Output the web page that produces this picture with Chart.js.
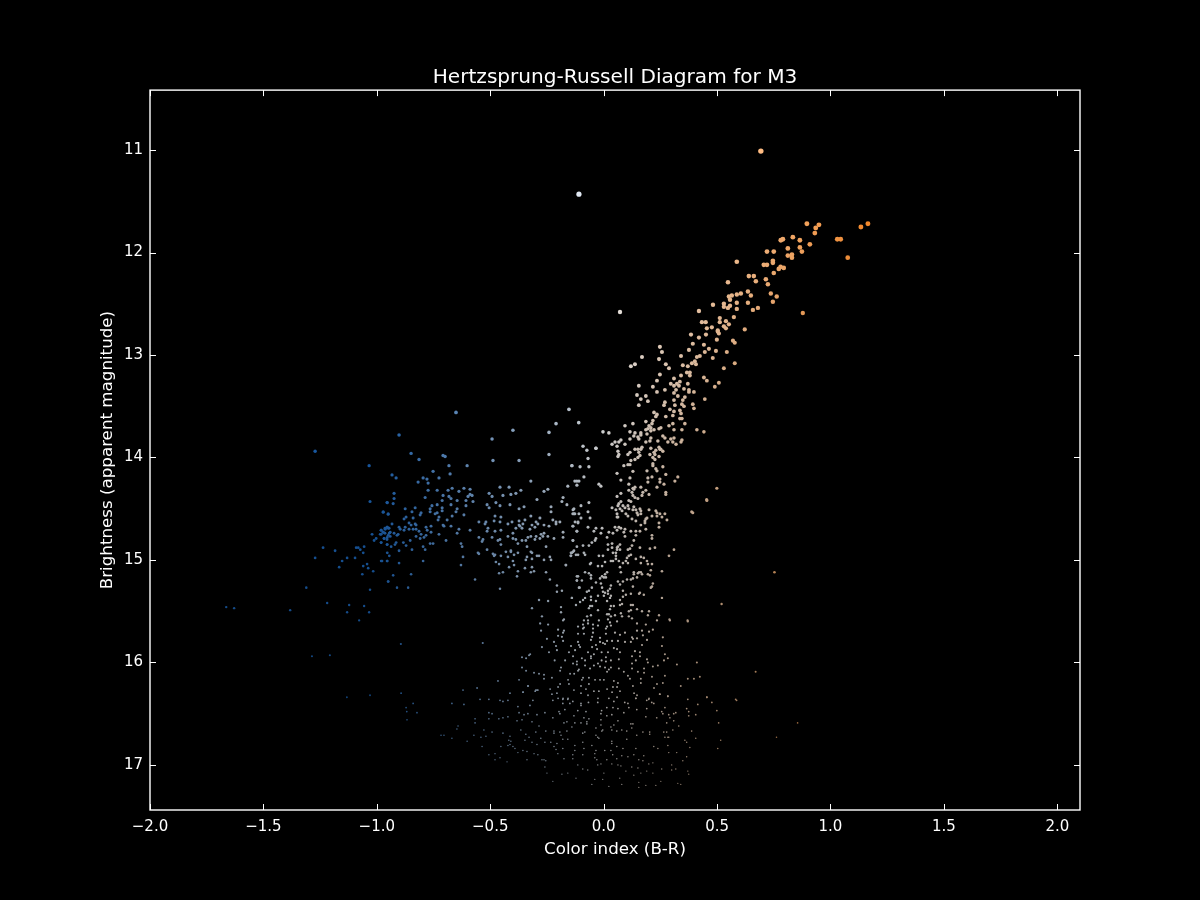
<!DOCTYPE html>
<html>
<head>
<meta charset="utf-8">
<title>Hertzsprung-Russell Diagram for M3</title>
<script src="https://cdn.jsdelivr.net/npm/chart.js@4"></script>
<style>
  html, body { margin: 0; padding: 0; background: #000; }
  canvas { display: block; }
</style>
</head>
<body>
<canvas id="main-chart" width="1200" height="900"></canvas>
<script>
// every star is [color index B-R, apparent magnitude]
const giantTop = [[0.693,11.01],[-0.109,11.43],[0.072,12.58],[0.896,11.72],[0.949,11.73],[0.935,11.76],[0.931,11.81],[1.134,11.75],[1.165,11.72],[1.03,11.87],[1.045,11.87],[1.076,12.05],[0.781,11.88],[0.79,11.87],[0.834,11.85],[0.865,11.88],[0.909,11.92],[0.812,11.96],[0.865,11.95],[0.874,11.99],[0.72,11.99],[0.75,11.99],[0.812,12.03],[0.83,12.02],[0.83,12.05],[0.587,12.09],[0.746,12.08],[0.746,12.1],[0.706,12.12],[0.72,12.12],[0.772,12.16],[0.78,12.14],[0.794,12.15],[0.75,12.2],[0.64,12.23],[0.662,12.23],[0.671,12.28],[0.548,12.29],[0.715,12.26],[0.724,12.31],[0.636,12.38],[0.649,12.42],[0.605,12.4],[0.587,12.41],[0.565,12.42],[0.552,12.43],[0.557,12.46],[0.737,12.4],[0.763,12.43],[0.746,12.48],[0.482,12.51],[0.53,12.5],[0.53,12.53],[0.548,12.54],[0.557,12.52],[0.587,12.49],[0.636,12.49],[0.587,12.55],[0.658,12.56],[0.68,12.54],[0.878,12.59],[0.42,12.57],[0.574,12.63],[0.512,12.64],[0.512,12.68],[0.539,12.67],[0.552,12.7],[0.433,12.68],[0.45,12.68],[0.455,12.74],[0.477,12.73],[0.53,12.72],[0.539,12.74],[0.622,12.75],[0.503,12.76]];
const giantMiddle = [[0.503,12.77],[0.508,12.79],[0.385,12.8],[0.451,12.8],[0.42,12.83],[0.499,12.85],[0.57,12.86],[0.578,12.88],[0.393,12.89],[0.442,12.9],[0.248,12.92],[0.464,12.94],[0.376,12.95],[0.495,12.96],[0.543,12.97],[0.257,12.97],[0.446,12.97],[0.341,13.01],[0.424,13.01],[0.411,13.02],[0.169,13.02],[0.481,13.03],[0.244,13.04],[0.402,13.06],[0.407,13.09],[0.389,13.08],[0.138,13.09],[0.12,13.11],[0.274,13.09],[0.349,13.1],[0.371,13.11],[0.578,13.08],[0.288,13.13],[0.53,13.13],[0.367,13.17],[0.38,13.17],[0.38,13.2],[0.248,13.19],[0.341,13.2],[0.442,13.22],[0.455,13.25],[0.31,13.23],[0.235,13.25],[0.336,13.26],[0.323,13.28],[0.296,13.28],[0.332,13.3],[0.31,13.3],[0.371,13.28],[0.508,13.27],[0.155,13.3],[0.217,13.31],[0.49,13.31],[0.354,13.33],[0.376,13.34],[0.376,13.36],[0.398,13.36],[0.319,13.34],[0.31,13.37],[0.27,13.34],[0.235,13.36],[0.147,13.39],[0.186,13.4],[0.327,13.4],[0.358,13.41],[0.164,13.43],[0.195,13.45],[0.31,13.44],[0.446,13.43],[0.27,13.46],[0.266,13.49],[0.349,13.44],[0.345,13.48],[0.354,13.5],[0.393,13.48],[0.398,13.52],[0.155,13.49],[0.314,13.49],[0.292,13.53],[0.31,13.55],[0.336,13.54],[0.341,13.57],[0.222,13.56],[0.235,13.58],[0.23,13.6],[0.305,13.59],[0.274,13.6],[0.336,13.62],[0.345,13.62],[0.129,13.67],[0.094,13.69],[0.186,13.65],[0.217,13.64],[0.213,13.67],[0.2,13.69],[0.208,13.71],[0.195,13.72],[0.222,13.73],[0.208,13.74],[0.186,13.73],[0.191,13.77],[0.305,13.67],[0.288,13.69],[0.358,13.67],[0.244,13.72],[0.252,13.71],[0.31,13.73],[0.345,13.73],[0.411,13.73],[0.442,13.75],[0.116,13.75],[0.138,13.76],[0.133,13.79],[0.164,13.76],[0.164,13.78],[0.151,13.8],[0.155,13.82],[0.116,13.82],[-0.003,13.75],[0.023,13.76],[0.208,13.81],[0.204,13.84],[0.186,13.85],[0.261,13.79],[0.27,13.81],[0.239,13.84],[0.31,13.81],[0.296,13.82],[0.283,13.85],[0.305,13.85],[0.319,13.87],[0.345,13.83],[0.341,13.85],[0.076,13.83],[0.067,13.85],[0.05,13.85],[0.037,13.87],[0.059,13.89],[0.094,13.87],[-0.034,13.91],[0.138,13.92],[0.169,13.9],[0.164,13.92],[0.208,13.91],[0.244,13.9],[0.252,13.92]];
const blueEnd = [[-1.272,13.94],[-1.034,14.08],[-1.03,14.43],[-0.954,14.44],[-0.972,14.53],[-0.95,14.55],[-0.954,14.68],[-0.963,14.7],[-0.981,14.71],[-0.972,14.73],[-0.985,14.75],[-1.021,14.75],[-1.003,14.79],[-1.012,14.81],[-0.95,14.69],[-0.945,14.74],[-0.95,14.76],[-0.954,14.78],[-0.968,14.79],[-0.981,14.83],[-0.954,14.85],[-1.237,14.88],[-1.184,14.91],[-1.091,14.88],[-1.082,14.88],[-1.073,14.9],[-1.056,14.87],[-1.06,14.93],[-0.954,14.93],[-0.945,14.96],[-1.272,14.98],[-1.131,14.98],[-1.096,14.98],[-1.153,15.01],[-0.977,15.01],[-0.954,15.01],[-1.043,15.04],[-1.06,15.06],[-1.038,15.08],[-1.016,15.11],[-1.166,15.07],[-1.064,15.14],[-0.95,15.21],[-1.311,15.27],[-1.03,15.29],[-1.219,15.42],[-1.122,15.44],[-1.056,15.45],[-1.131,15.51],[-1.034,15.51],[-1.078,15.59],[-1.664,15.46],[-1.629,15.47],[-1.382,15.49]];
const horizontalBranch = [[-0.651,13.56],[-0.153,13.53],[-0.21,13.67],[-0.11,13.66],[-0.4,13.735],[-0.241,13.755],[-0.492,13.82],[-0.902,13.78],[-0.849,13.96],[-0.241,13.97],[-0.708,13.98],[-0.699,13.99],[-0.814,14.02],[-0.488,14.03],[-0.373,14.03],[-0.682,14.08],[-0.602,14.08],[-0.14,14.08],[-0.752,14.135],[-0.677,14.16],[-0.933,14.17],[-0.915,14.2],[-0.796,14.2],[-0.779,14.21],[-0.774,14.25],[-0.818,14.24],[-0.726,14.2],[-0.321,14.23],[-0.127,14.23],[-0.118,14.23],[-0.109,14.23],[-0.118,14.27],[-0.158,14.28],[-0.774,14.32],[-0.734,14.32],[-0.686,14.32],[-0.668,14.3],[-0.638,14.33],[-0.616,14.3],[-0.589,14.31],[-0.457,14.29],[-0.417,14.29],[-0.365,14.32],[-0.246,14.31],[-0.263,14.33],[-0.924,14.35],[-0.924,14.4],[-0.787,14.39],[-0.708,14.37],[-0.682,14.38],[-0.673,14.4],[-0.646,14.42],[-0.712,14.42],[-0.598,14.38],[-0.58,14.37],[-0.589,14.36],[-0.607,14.42],[-0.576,14.43],[-0.505,14.35],[-0.492,14.38],[-0.444,14.37],[-0.409,14.36],[-0.387,14.35],[-0.294,14.41],[-0.179,14.39],[-0.184,14.43],[-0.162,14.46],[-0.131,14.5],[-0.127,14.55],[-0.136,14.55],[-0.955,14.44],[-0.928,14.45],[-0.757,14.47],[-0.734,14.46],[-0.712,14.49],[-0.765,14.5],[-0.765,14.53],[-0.743,14.55],[-0.734,14.54],[-0.712,14.52],[-0.673,14.46],[-0.646,14.5],[-0.651,14.53],[-0.607,14.47],[-0.514,14.46],[-0.505,14.49],[-0.475,14.44],[-0.457,14.47],[-0.413,14.46],[-0.373,14.5],[-0.351,14.48],[-0.232,14.48],[-0.232,14.53],[-0.875,14.5],[-0.831,14.49],[-0.845,14.53],[-0.805,14.54],[-0.809,14.56],[-0.972,14.535],[-0.95,14.555],[-0.616,14.56],[-0.726,14.58],[-0.73,14.61],[-0.668,14.57],[-0.69,14.61],[-0.479,14.57],[-0.453,14.58],[-0.483,14.62],[-0.457,14.63],[-0.523,14.65],[-0.55,14.63],[-0.519,14.63],[-0.321,14.57],[-0.281,14.59],[-0.347,14.61],[-0.373,14.62],[-0.356,14.65],[-0.373,14.66],[-0.387,14.69],[-0.36,14.69],[-0.369,14.67],[-0.404,14.63],[-0.422,14.65],[-0.298,14.63],[-0.316,14.66],[-0.29,14.65],[-0.303,14.68],[-0.325,14.7],[-0.263,14.66],[-0.241,14.67],[-0.224,14.61],[-0.21,14.63],[-0.21,14.65],[-0.193,14.63],[-0.136,14.67],[-0.113,14.63],[-0.88,14.6],[-0.871,14.58],[-0.84,14.59],[-0.933,14.65],[-0.955,14.68],[-0.946,14.69],[-0.964,14.69],[-0.981,14.71],[-0.972,14.73],[-0.964,14.74],[-0.981,14.75],[-0.902,14.68],[-0.875,14.68],[-0.897,14.7],[-0.88,14.71],[-0.858,14.64],[-0.849,14.66],[-0.827,14.66],[-0.831,14.65],[-0.858,14.7],[-0.84,14.7],[-0.827,14.7],[-0.814,14.72],[-0.805,14.75],[-0.783,14.68],[-0.761,14.67],[-0.778,14.71],[-0.761,14.73],[-0.708,14.66],[-0.704,14.67],[-0.673,14.67],[-0.638,14.7],[-0.589,14.71],[-0.646,14.74],[-0.726,14.75],[-0.941,14.73],[-0.924,14.74],[-0.906,14.75],[-0.911,14.76],[-0.941,14.77],[-0.955,14.8],[-0.968,14.79],[-0.981,14.83],[-0.955,14.85],[-0.937,14.87],[-0.92,14.85],[-0.915,14.83],[-0.883,14.83],[-0.871,14.86],[-0.853,14.81],[-0.827,14.77],[-0.809,14.79],[-0.792,14.78],[-0.783,14.76],[-0.796,14.87],[-0.787,14.9],[-0.845,14.9],[-0.902,14.91],[-0.765,14.84],[-0.752,14.84],[-0.695,14.81],[-0.629,14.84],[-0.624,14.87],[-0.51,14.69],[-0.479,14.72],[-0.453,14.71],[-0.514,14.72],[-0.422,14.77],[-0.4,14.74],[-0.457,14.8],[-0.492,14.78],[-0.532,14.8],[-0.55,14.78],[-0.536,14.82],[-0.466,14.81],[-0.453,14.85],[-0.4,14.79],[-0.387,14.8],[-0.36,14.81],[-0.334,14.78],[-0.343,14.81],[-0.378,14.84],[-0.338,14.87],[-0.321,14.77],[-0.298,14.77],[-0.303,14.8],[-0.276,14.75],[-0.281,14.79],[-0.263,14.74],[-0.268,14.77],[-0.246,14.77],[-0.219,14.79],[-0.179,14.73],[-0.179,14.78],[-0.118,14.72],[-0.136,14.81],[-0.118,14.87],[-0.131,14.91],[-0.14,14.93],[-0.145,14.96],[-0.167,15.05],[-0.514,14.9],[-0.554,14.93],[-0.55,14.94],[-0.488,14.94],[-0.479,14.95],[-0.483,14.96],[-0.431,14.92],[-0.409,14.91],[-0.409,14.92],[-0.378,14.93],[-0.395,14.95],[-0.321,14.92],[-0.316,14.93],[-0.254,14.87],[-0.294,14.96],[-0.422,14.97],[-0.453,14.96],[-0.338,14.97],[-0.343,15],[-0.316,14.99],[-0.285,14.96],[-0.263,15],[-0.237,14.97],[-0.232,15],[-0.62,14.97],[-0.629,15.05],[-0.796,15.01],[-0.902,15.03],[-0.955,15.01],[-0.981,15.01],[-0.475,15.02],[-0.461,15.04],[-0.417,15.07],[-0.4,15.01],[-0.395,15.05],[-0.347,15.08],[-0.316,15.07],[-0.307,15.11],[-0.321,15.12],[-0.254,15.12],[-0.378,15.11],[-0.444,15.12],[-0.461,15.13],[-0.382,15.16],[-0.237,15.19],[-0.849,15.14],[-0.928,15.15],[-0.95,15.21],[-0.911,15.27],[-0.862,15.27],[-0.567,15.19],[-0.457,15.28],[-0.206,15.25],[-0.184,15.3],[-0.206,15.31],[-0.14,15.37],[-0.113,15.16],[-0.118,15.2],[-0.106,15.27]];
const subgiantBranch = [[-0.091,13.89],[-0.034,13.91],[-0.074,13.93],[-0.069,14.01],[-0.104,14.09],[-0.14,14.08],[-0.065,14.09],[0.063,13.94],[0.067,13.97],[0.063,13.99],[0.116,13.95],[0.107,13.97],[0.151,13.92],[0.155,13.95],[0.16,13.98],[0.151,14],[0.138,14.02],[0.12,14.03],[0.204,13.97],[0.222,13.95],[0.23,13.93],[0.226,13.97],[0.248,13.92],[0.261,13.94],[0.244,13.99],[0.217,14],[0.226,14.02],[0.107,14.07],[0.116,14.07],[0.089,14.08],[0.217,14.06],[0.217,14.08],[0.23,14.11],[0.235,14.13],[0.261,14.09],[0.191,14.13],[0.059,14.155],[0.129,14.135],[0.274,14.165],[0.076,14.22],[0.116,14.2],[0.111,14.26],[0.195,14.2],[0.213,14.19],[0.195,14.24],[0.248,14.21],[0.248,14.24],[0.266,14.26],[0.327,14.19],[0.314,14.23],[-0.087,14.19],[-0.021,14.26],[-0.012,14.28],[0.138,14.29],[0.129,14.3],[0.111,14.32],[0.125,14.34],[0.133,14.31],[0.164,14.29],[0.186,14.32],[0.173,14.34],[0.235,14.29],[0.274,14.34],[0.274,14.36],[0.2,14.36],[0.169,14.37],[0.499,14.3],[0.455,14.42],[0.393,14.54],[0.076,14.35],[0.059,14.38],[0.129,14.37],[0.138,14.39],[0.151,14.4],[0.12,14.43],[0.111,14.42],[0.076,14.43],[0.067,14.45],[0.063,14.47],[0.037,14.49],[0.085,14.47],[0.107,14.47],[0.094,14.49],[0.054,14.51],[0.111,14.5],[0.133,14.48],[0.142,14.51],[0.16,14.5],[0.164,14.52],[0.072,14.5],[0.081,14.52],[0.059,14.55],[0.098,14.55],[0.107,14.57],[0.129,14.51],[0.147,14.54],[0.164,14.55],[0.151,14.56],[0.125,14.6],[0.142,14.62],[0.059,14.58],[0.063,14.58],[0.2,14.51],[0.23,14.52],[0.235,14.54],[0.248,14.55],[0.27,14.55],[0.213,14.57],[0.235,14.57],[0.257,14.58],[0.279,14.61],[0.186,14.6],[0.182,14.64],[0.182,14.62],[0.191,14.59],[0.164,14.66],[0.244,14.64],[0.244,14.68],[0.186,14.7],[0.05,14.68],[0.067,14.68],[0.076,14.69],[0.059,14.71],[0.041,14.74],[0.023,14.73],[0.015,14.78],[-0.007,14.69],[-0.034,14.69],[-0.043,14.72],[-0.012,14.74],[0.094,14.7],[0.089,14.73],[0.094,14.77],[0.12,14.72],[0.142,14.72],[0.16,14.72],[0.142,14.76],[0.133,14.81],[0.213,14.76],[0.213,14.79],[-0.069,14.68],[-0.126,14.63],[-0.113,14.64],[-0.1,14.59],[-0.135,14.67],[-0.06,14.59],[-0.109,14.55],[-0.069,14.53],[-0.065,14.44],[-0.1,14.47],[-0.135,14.51],[-0.131,14.55],[-0.135,14.81],[-0.118,14.72],[-0.091,14.86],[-0.065,14.86],[-0.052,14.83],[-0.038,14.81],[-0.034,14.79],[0.019,14.85],[0.037,14.84],[0.037,14.88],[0.019,14.9],[0.059,14.88],[0.072,14.85],[0.063,14.87],[0.059,14.9],[0.072,14.9],[0.054,14.93],[0.041,14.93],[0.107,14.9],[0.125,14.86],[0.116,14.89],[0.16,14.88],[0.204,14.89],[0.226,14.88],[0.31,14.9],[0.288,14.96],[-0.135,14.92],[-0.144,14.93],[-0.144,14.96],[-0.122,14.95],[-0.113,14.95],[-0.087,14.93],[-0.082,14.95],[-0.021,14.96],[-0.003,14.96],[0.12,14.95],[0.111,14.96],[0.103,14.98],[0.054,14.96],[0.098,15.01],[0.107,15.03],[0.085,15.03],[0.054,14.99],[0.067,15.01],[0.032,15.01],[0.041,15.01],[0.006,15.02],[0.164,14.97],[0.177,14.98],[0.142,14.99],[0.191,15.01],[0.195,15.04],[0.164,15.03],[0.213,15.04],[0.072,15.07],[-0.056,15.03],[-0.06,15.04],[-0.007,15.06],[-0.025,15.06],[-0.166,15.05],[0.257,15.11],[0.208,15.1],[0.204,15.15],[0.195,15.14],[0.164,15.12],[0.151,15.13],[0.133,15.12],[0.133,15.14],[0.129,15.18],[0.147,15.17],[0.076,15.12],[0.015,15.12],[0.006,15.14],[-0.007,15.16],[0.001,15.17],[-0.016,15.18],[0.01,15.17],[-0.056,15.15],[-0.082,15.12],[-0.065,15.13],[-0.118,15.16],[-0.096,15.2],[-0.118,15.2],[-0.109,15.27],[-0.056,15.18],[-0.034,15.22],[-0.052,15.27],[-0.065,15.3],[-0.074,15.31],[-0.012,15.23],[0.032,15.25],[0.028,15.28],[0.019,15.3],[-0.007,15.27],[0.006,15.32],[0.019,15.33],[0.032,15.35],[-0.003,15.31],[-0.025,15.35],[0.001,15.35],[0.028,15.37],[-0.056,15.36],[-0.082,15.37],[-0.14,15.37],[0.063,15.21],[0.085,15.21],[0.103,15.19],[0.072,15.24],[0.085,15.3],[0.12,15.19],[0.156,15.12],[0.169,15.14],[0.217,15.23],[0.208,15.27],[0.213,15.26],[0.129,15.26],[0.16,15.32],[0.177,15.34],[0.12,15.33],[0.098,15.34],[0.085,15.36],[0.156,15.33],[0.257,15.37]];
const mainSequenceUpper = [[-0.285,15.39],[-0.245,15.4],[-0.091,15.39],[-0.104,15.41],[-0.122,15.44],[-0.056,15.39],[-0.034,15.4],[0.015,15.4],[0.072,15.39],[0.072,15.44],[0.032,15.45],[0.045,15.45],[0.081,15.43],[0.12,15.44],[0.129,15.44],[-0.06,15.45],[-0.051,15.45],[-0.065,15.47],[-0.188,15.46],[-0.188,15.51],[-0.316,15.47],[-0.272,15.55],[-0.28,15.62],[-0.245,15.63],[-0.276,15.69],[-0.179,15.59],[-0.175,15.58],[-0.025,15.49],[0.028,15.48],[0.023,15.53],[0.015,15.53],[0.032,15.55],[0.05,15.54],[0.076,15.52],[0.081,15.55],[0.111,15.5],[0.111,15.55],[0.12,15.49],[0.147,15.48],[0.169,15.5],[0.2,15.5],[0.195,15.54],[0.244,15.54],[-0.056,15.54],[-0.073,15.55],[-0.087,15.59],[-0.069,15.59],[-0.069,15.62],[-0.091,15.63],[-0.091,15.67],[-0.113,15.65],[-0.113,15.72],[-0.047,15.63],[-0.021,15.59],[-0.025,15.64],[0.019,15.58],[0.028,15.61],[0.059,15.6],[0.015,15.65],[0.032,15.64],[0.125,15.57],[0.147,15.62],[0.186,15.63],[0.235,15.59],[0.292,15.59],[0.371,15.6],[-0.201,15.68],[-0.175,15.69],[-0.179,15.71],[-0.201,15.74],[-0.184,15.75],[-0.179,15.79],[-0.219,15.8],[-0.25,15.77],[-0.272,15.85],[-0.241,15.9],[-0.21,15.84],[-0.206,15.88],[-0.087,15.66],[-0.047,15.67],[-0.047,15.71],[-0.087,15.72],[-0.051,15.75],[-0.016,15.76],[0.01,15.67],[0.01,15.72],[0.05,15.71],[0.072,15.73],[0.094,15.71],[0.147,15.69],[0.169,15.69],[0.173,15.735],[0.2,15.7],[0.217,15.68],[0.261,15.755],[0.125,15.755],[0.129,15.77],[0.147,15.765],[0.094,15.8],[0.12,15.8],[-0.056,15.78],[-0.016,15.8],[0.015,15.79],[-0.003,15.81],[0.006,15.82],[-0.034,15.83],[0.037,15.79],[0.063,15.79],[-0.113,15.8],[-0.109,15.83],[-0.104,15.85],[-0.144,15.84],[-0.153,15.9],[-0.135,15.94],[-0.126,15.88],[-0.051,15.85],[-0.029,15.87],[-0.069,15.9],[-0.056,15.94],[-0.043,15.92],[-0.009,15.9],[0.019,15.9],[0.01,15.95],[0.045,15.86],[0.059,15.87],[0.072,15.9],[0.169,15.83],[0.191,15.78],[0.257,15.84],[0.138,15.89],[0.16,15.9],[0.125,15.94],[0.16,15.94],[0.27,15.92],[0.283,15.96],[0.266,15.98],[-0.36,15.95],[-0.342,15.96],[-0.329,15.93],[-0.324,15.92],[-0.216,15.98],[-0.17,15.98],[-0.118,15.99],[-0.096,15.96],[-0.082,15.98],[-0.135,16.01],[-0.118,16.02],[-0.056,15.96],[-0.009,15.98],[0.01,15.99],[0.032,15.98],[0.067,15.97],[0.125,16.01],[0.142,15.98],[0.191,15.97],[0.195,16],[0.239,16.03],[0.217,16.04],[0.323,16.02],[0.411,16],[-0.025,16.01],[-0.043,16.03],[0.006,16.05],[0.015,16.09],[0.023,16.07],[0.032,16.05],[-0.016,16.04],[-0.06,16.06],[-0.082,16.03],[-0.109,16.07],[-0.113,16.08],[-0.188,16.05],[-0.192,16.08],[-0.148,16.11],[-0.13,16.11],[-0.228,16.15],[-0.263,16.16],[-0.285,16.11],[-0.307,16.1],[-0.342,16.08],[-0.36,16.05],[-0.263,16.12],[0.067,16.06],[0.089,16.09],[0.107,16.13],[0.125,16.06],[0.151,16.09],[0.178,16.06],[0.178,16.1],[0.213,16.14],[0.27,16.13],[0.371,16.16],[0.398,16.16],[0.424,16.14],[-0.091,16.15],[-0.065,16.15],[-0.038,16.17],[-0.016,16.17],[0.001,16.17],[0.045,16.18],[0.116,16.16],[0.164,16.16],[0.164,16.2],[-0.157,16.17],[-0.153,16.21],[-0.096,16.17],[-0.192,16.21],[-0.201,16.24],[-0.236,16.26],[-0.333,16.23],[-0.294,16.27],[-0.355,16.29],[-0.302,16.28],[-0.065,16.21],[-0.1,16.23],[-0.078,16.26],[-0.131,16.27],[-0.043,16.28],[-0.021,16.28],[0.015,16.26],[0.041,16.24],[0.063,16.2],[0.059,16.24],[0.037,16.29],[0.072,16.28],[0.129,16.23],[0.134,16.3],[0.147,16.32],[-0.228,16.31],[-0.206,16.3],[-0.157,16.35],[-0.179,16.35],[-0.201,16.35],[-0.069,16.32],[-0.1,16.3],[-0.025,16.35],[0.023,16.35],[0.059,16.34],[0.142,16.35],[0.2,16.35],[0.247,16.31],[0.283,16.33],[0.34,16.23],[0.235,16.21],[0.261,16.2],[0.222,16.25],[0.455,16.34]];
const mainSequenceLower = [[-0.893,16.3],[-0.871,16.44],[-0.84,16.4],[-0.823,16.49],[-0.867,16.56],[-0.62,16.27],[-0.558,16.25],[-0.466,16.18],[-0.373,16.17],[-0.334,16.23],[-0.413,16.3],[-0.356,16.29],[-0.299,16.27],[-0.29,16.27],[-0.669,16.4],[-0.616,16.41],[-0.545,16.36],[-0.506,16.36],[-0.457,16.37],[-0.444,16.38],[-0.422,16.37],[-0.378,16.43],[-0.325,16.42],[-0.312,16.37],[-0.373,16.49],[-0.506,16.49],[-0.492,16.5],[-0.351,16.51],[-0.334,16.5],[-0.294,16.51],[-0.259,16.49],[-0.567,16.55],[-0.567,16.59],[-0.506,16.55],[-0.462,16.55],[-0.444,16.54],[-0.422,16.53],[-0.382,16.57],[-0.36,16.56],[-0.316,16.58],[-0.642,16.62],[-0.647,16.65],[-0.717,16.71],[-0.704,16.71],[-0.669,16.74],[-0.602,16.77],[-0.572,16.71],[-0.528,16.66],[-0.541,16.73],[-0.519,16.72],[-0.492,16.68],[-0.444,16.69],[-0.536,16.82],[-0.413,16.72],[-0.418,16.76],[-0.409,16.77],[-0.422,16.81],[-0.413,16.8],[-0.4,16.82],[-0.391,16.84],[-0.453,16.82],[-0.506,16.9],[-0.479,16.89],[-0.479,16.95],[-0.457,16.93],[-0.426,16.97],[-0.378,16.88],[-0.356,16.86],[-0.338,16.87],[-0.338,16.95],[-0.365,16.66],[-0.343,16.7],[-0.329,16.73],[-0.347,16.76],[-0.285,16.62],[-0.299,16.68],[-0.255,16.67],[-0.277,16.74],[-0.316,16.78],[-0.294,16.8],[-0.259,16.78],[-0.307,16.89],[-0.29,16.9],[-0.263,16.95],[-0.272,16.95],[-0.255,16.96],[-0.259,17.02],[-0.25,17.08],[-0.224,17.16],[-0.224,16.37],[-0.18,16.36],[-0.158,16.36],[-0.136,16.38],[-0.18,16.4],[-0.149,16.4],[-0.1,16.4],[-0.067,16.39],[-0.026,16.39],[0.045,16.38],[0.093,16.39],[0.107,16.4],[0.142,16.35],[-0.1,16.42],[0.014,16.44],[0.041,16.44],[0.063,16.45],[0.111,16.44],[0.146,16.46],[-0.197,16.48],[-0.171,16.46],[-0.114,16.47],[-0.078,16.48],[-0.009,16.47],[-0.012,16.5],[0.014,16.52],[0.089,16.49],[0.036,16.51],[-0.224,16.54],[-0.193,16.5],[-0.131,16.52],[-0.087,16.54],[-0.065,16.55],[0.19,16.37],[0.199,16.36],[0.212,16.39],[0.221,16.4],[0.19,16.45],[0.248,16.31],[0.283,16.33],[0.371,16.36],[0.415,16.41],[0.455,16.34],[0.477,16.39],[0.582,16.36],[0.366,16.45],[0.375,16.48],[0.375,16.52],[0.406,16.51],[0.499,16.47],[0.507,16.59],[0.516,16.76],[0.503,16.84],[0.256,16.48],[0.27,16.44],[0.261,16.5],[0.287,16.51],[0.309,16.5],[0.318,16.49],[0.186,16.53],[0.234,16.54],[0.292,16.54],[0.309,16.57],[0.331,16.62],[0.278,16.59],[-0.175,16.59],[-0.162,16.58],[-0.127,16.59],[-0.1,16.59],[-0.074,16.58],[-0.074,16.6],[-0.012,16.56],[0.063,16.57],[0.045,16.61],[-0.012,16.61],[0.032,16.63],[0.12,16.6],[0.129,16.6],[0.124,16.64],[-0.034,16.64],[-0.14,16.63],[-0.219,16.67],[-0.219,16.69],[-0.193,16.68],[-0.162,16.67],[-0.092,16.69],[-0.083,16.68],[-0.034,16.71],[-0.008,16.67],[-0.004,16.66],[0.036,16.66],[0.058,16.67],[0.08,16.66],[0.102,16.67],[0.173,16.68],[0.203,16.68],[0.203,16.7],[0.265,16.68],[0.278,16.68],[0.305,16.66],[0.27,16.73],[0.283,16.73],[0.388,16.67],[0.406,16.74],[0.287,16.73],[-0.188,16.71],[-0.18,16.75],[-0.158,16.75],[-0.026,16.73],[-0.021,16.74],[0.146,16.71],[0.102,16.75],[0.036,16.77],[0.036,16.79],[-0.092,16.78],[-0.233,16.78],[-0.219,16.82],[-0.206,16.79],[-0.21,16.85],[-0.18,16.84],[-0.127,16.81],[-0.127,16.86],[-0.136,16.9],[-0.087,16.84],[-0.052,16.81],[-0.034,16.86],[-0.039,16.89],[0.005,16.86],[0.032,16.86],[0.058,16.82],[0.085,16.84],[0.142,16.84],[0.221,16.82],[0.239,16.84],[0.283,16.81],[0.287,16.88],[0.322,16.88],[0.358,16.76],[0.366,16.78],[0.38,16.83],[0.366,16.92],[0.349,16.96],[-0.202,16.89],[-0.175,16.94],[-0.136,16.94],[-0.092,16.9],[-0.039,16.93],[-0.03,16.95],[0.04,16.9],[0.014,16.95],[0.058,16.94],[0.08,16.91],[0.107,16.92],[0.133,16.9],[0.177,16.91],[0.155,16.95],[0.173,16.96],[0.199,16.99],[0.217,16.98],[0.256,17.04],[0.3,17],[0.318,17.04],[0.3,17.05],[0.371,17.06],[0.375,17.09],[-0.114,17],[-0.092,17.04],[-0.07,17.05],[-0.026,17],[-0.012,16.99],[0.036,16.99],[0.063,17],[0.076,17.01],[0.124,17.02],[0.098,17.06],[0.151,17.03],[0.164,17.08],[0.19,17.06],[0.217,17.08],[-0.184,17.09],[-0.158,17.08],[-0.122,17.13],[-0.039,17.14],[-0.004,17.14],[0.001,17.08],[0.071,17.13],[0.133,17.1],[0.155,17.17],[0.186,17.2],[0.155,17.22],[0.252,17.16],[0.23,17.2],[-0.052,17.19],[0.08,17.19],[0.327,17.18],[0.34,17.19],[0.023,17.21]];
const outliers = [[0.753,15.12],[0.52,15.43],[0.67,16.09],[0.388,14.53],[0.454,14.41],[-0.894,15.82],[-1.286,15.94],[-1.207,15.93],[-1.132,16.34],[-1.03,16.32],[0.855,16.59],[0.762,16.73],[0.586,16.37],[-0.533,15.81],[0.37,15.59],[0.29,15.58],[-0.868,16.48]];

const xTicks = [-2, -1.5, -1, -0.5, 0, 0.5, 1, 1.5, 2];
const yTicks = [11, 12, 13, 14, 15, 16, 17];

const stars = [giantTop, giantMiddle, blueEnd, horizontalBranch, subgiantBranch, mainSequenceUpper, mainSequenceLower, outliers]
  .flat()
  .map(([x, y]) => ({ x, y }));

// brighter stars are drawn bigger
const starRadius = (mag) => (19 - mag) * 0.34;

// white at B-R 0, going blue on the left and orange on the right
const starColor = (bv, mag) => {
  const end = bv < 0 ? [30, 110, 200] : [255, 140, 40];
  const t = Math.min(1, bv < 0 ? -bv / 1.0 : bv / 1.2);
  const fade = 1 - (mag - 11) * 0.07;
  const mix = end.map((c) => Math.round((255 + (c - 255) * t) * fade));
  return `rgb(${mix[0]}, ${mix[1]}, ${mix[2]})`;
};

// frame and inward ticks on all four sides, like the original axes
const frame = {
  id: "frame",
  afterDatasetsDraw(chart) {
    const { ctx, chartArea: a, scales } = chart;
    const tick = 6;
    ctx.save();
    ctx.strokeStyle = "#ffffff";
    ctx.lineWidth = 1;
    ctx.beginPath();
    xTicks.forEach((v) => {
      const px = Math.round(scales.x.getPixelForValue(v)) + 0.5;
      ctx.moveTo(px, a.top);
      ctx.lineTo(px, a.top + tick);
      ctx.moveTo(px, a.bottom);
      ctx.lineTo(px, a.bottom - tick);
    });
    yTicks.forEach((v) => {
      const py = Math.round(scales.y.getPixelForValue(v)) + 0.5;
      ctx.moveTo(a.left, py);
      ctx.lineTo(a.left + tick, py);
      ctx.moveTo(a.right, py);
      ctx.lineTo(a.right - tick, py);
    });
    ctx.stroke();
    ctx.lineWidth = 1.4;
    ctx.strokeRect(a.left, a.top, a.right - a.left, a.bottom - a.top);
    ctx.restore();
  },
};

const fontFamily = "'DejaVu Sans', sans-serif";
const formatTick = (v) => v.toFixed(1).replace("-", "\u2212");

new Chart(document.getElementById("main-chart").getContext("2d"), {
  type: "scatter",
  data: {
    datasets: [
      {
        label: "M3 stars",
        data: stars,
        pointRadius: (c) => starRadius(c.raw.y),
        pointBackgroundColor: (c) => starColor(c.raw.x, c.raw.y),
        pointBorderWidth: 0,
      },
    ],
  },
  options: {
    responsive: false,
    animation: false,
    devicePixelRatio: 1,
    layout: { padding: { left: 94, right: 120, top: 0, bottom: 36 } },
    plugins: {
      legend: { display: false },
      tooltip: { enabled: false },
      title: {
        display: true,
        fullSize: false,
        text: "Hertzsprung-Russell Diagram for M3",
        color: "#ffffff",
        font: { family: fontFamily, size: 20.1, weight: "normal" },
        padding: { top: 66, bottom: 0 },
      },
    },
    scales: {
      x: {
        type: "linear",
        min: -2,
        max: 2.1,
        afterFit: (s) => { s.height = 54; },
        grid: { display: false, drawTicks: false },
        border: { display: false },
        afterBuildTicks: (s) => { s.ticks = xTicks.map((value) => ({ value })); },
        ticks: {
          color: "#ffffff",
          font: { family: fontFamily, size: 15 },
          padding: 8,
          maxRotation: 0,
          autoSkip: false,
          callback: (v) => formatTick(v),
        },
        title: {
          display: true,
          text: "Color index (B-R)",
          color: "#ffffff",
          font: { family: fontFamily, size: 16.7 },
          padding: { top: 4 },
        },
      },
      y: {
        type: "linear",
        reverse: true,
        min: 10.415,
        max: 17.44,
        afterFit: (s) => { s.width = 56; },
        grid: { display: false, drawTicks: false },
        border: { display: false },
        afterBuildTicks: (s) => { s.ticks = yTicks.map((value) => ({ value })); },
        ticks: {
          color: "#ffffff",
          font: { family: fontFamily, size: 15 },
          padding: 7,
          autoSkip: false,
          callback: (v) => String(v),
        },
        title: {
          display: true,
          text: "Brightness (apparent magnitude)",
          color: "#ffffff",
          font: { family: fontFamily, size: 16.7 },
        },
      },
    },
  },
  plugins: [frame],
});
</script>
</body>
</html>
